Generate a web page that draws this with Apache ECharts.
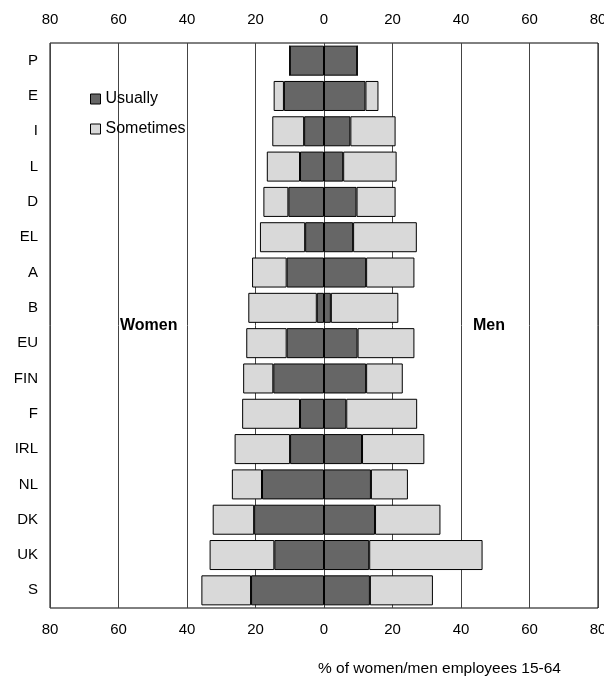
<!DOCTYPE html>
<html>
<head>
<meta charset="utf-8">
<script src="https://cdn.jsdelivr.net/npm/echarts@6/dist/echarts.min.js"></script>
<style>html,body{margin:0;padding:0;background:#fff}#c{width:604px;height:678px}</style>
</head>
<body>
<div id="c"></div>
<script>
const categories = ['P','E','I','L','D','EL','A','B','EU','FIN','F','IRL','NL','DK','UK','S'];
const womenUsually   = [10.0, 11.7, 5.8, 7.0, 10.4, 5.5, 10.9, 2.1, 10.9, 14.8, 7.0, 9.9, 18.1, 20.4, 14.5, 21.3];
const womenSometimes = [0.0, 3.0, 9.3, 9.7, 7.3, 13.2, 10.1, 20.0, 11.8, 8.8, 16.9, 16.2, 8.8, 12.1, 18.9, 14.5];
const menUsually     = [9.7, 12.1, 7.7, 5.6, 9.5, 8.5, 12.3, 2.0, 9.8, 12.3, 6.5, 11.1, 13.7, 14.9, 13.2, 13.4];
const menSometimes   = [0.0, 3.8, 13.2, 15.6, 11.4, 18.6, 14.1, 19.7, 16.6, 10.7, 20.7, 18.2, 10.8, 19.1, 33.1, 18.4];
const axisName = '% of women/men employees 15-64';

const FONT = 'Liberation Sans, Arial, sans-serif';
const dark = '#666666', light = '#d9d9d9';
const chart = echarts.init(document.getElementById('c'));
const neg = a => a.map(v => -v);
const xAxisBase = {
  type: 'value', min: -80, max: 80, interval: 20,
  axisLine: { show: false }, axisTick: { show: false },
  axisLabel: { formatter: v => String(Math.abs(v)), color: '#000', fontFamily: FONT, fontSize: 15 },
};
function bar(name, data, color) {
  return {
    name, type: 'bar', stack: 'all', data, barCategoryGap: '15%',
    itemStyle: { color, borderColor: '#000', borderWidth: 1 },
    emphasis: { disabled: true }
  };
}
chart.setOption({
  animation: false,
  grid: { left: 50, right: 6, top: 43, bottom: 70, show: true, borderColor: '#000', borderWidth: 1,
    backgroundColor: 'transparent', outerBoundsMode: 'none', containLabel: false },
  legend: {
    orient: 'vertical', left: 90, top: 91, itemWidth: 10, itemHeight: 10, itemGap: 14, padding: 0,
    icon: 'rect', itemStyle: { borderColor: '#000', borderWidth: 1 },
    data: ['Usually', 'Sometimes'],
    textStyle: { fontFamily: FONT, fontSize: 16, color: '#000' }
  },
  xAxis: [
    Object.assign({}, xAxisBase, { position: 'bottom', axisLabel: Object.assign({}, xAxisBase.axisLabel, { margin: 14 }),
      splitLine: { show: true, lineStyle: { color: '#444', width: 1 } } }),
    Object.assign({}, xAxisBase, { position: 'top', axisLabel: Object.assign({}, xAxisBase.axisLabel, { margin: 16 }),
      splitLine: { show: false } })
  ],
  yAxis: {
    type: 'category', data: categories, inverse: true,
    axisLine: { show: false, onZero: false }, axisTick: { show: false },
    axisLabel: { color: '#000', fontFamily: FONT, fontSize: 15, margin: 12 }
  },
  series: [
    bar('Usually', neg(womenUsually), dark),
    bar('Sometimes', neg(womenSometimes), light),
    bar('Usually', menUsually, dark),
    bar('Sometimes', menSometimes, light)
  ],
  graphic: [
    { type: 'text', left: 120, top: 318, style: { text: 'Women', font: 'bold 16px ' + FONT, fill: '#000' } },
    { type: 'text', left: 473, top: 318, style: { text: 'Men', font: 'bold 16px ' + FONT, fill: '#000' } },
    { type: 'text', left: 318, top: 661, style: { text: axisName, font: '15.5px ' + FONT, fill: '#000' } }
  ]
});
</script>
</body>
</html>
